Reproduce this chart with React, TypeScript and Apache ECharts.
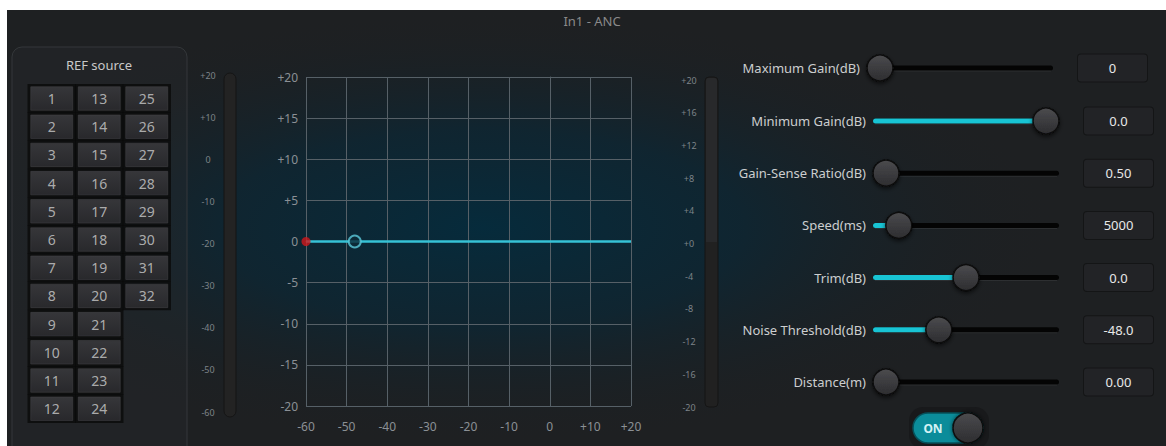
import React, { useEffect, useRef } from "react";
import * as echarts from "echarts";

// ---------- data ----------
const TITLE = "In1 - ANC";
const PANEL_TITLE = "REF source";

// main transfer curve
const CURVE_X = [-60, 20];
const CURVE_Y = [0, 0];
const REF_POINT = [-60, 0];
const THRESHOLD_POINT = [-48, 0];
const X_RANGE = [-60, 20];
const X_STEP = 10;
const Y_RANGE = [-20, 20];
const Y_STEP = 5;

// REF source buttons (one array per column)
const REF_COL_1 = [1, 2, 3, 4, 5, 6, 7, 8, 9, 10, 11, 12];
const REF_COL_2 = [13, 14, 15, 16, 17, 18, 19, 20, 21, 22, 23, 24];
const REF_COL_3 = [25, 26, 27, 28, 29, 30, 31, 32];
const REF_ROWS = 12;

// meters
const LEFT_METER_RANGE = [-60, 20];
const LEFT_METER_STEP = 10;
const RIGHT_METER_RANGE = [-20, 20];
const RIGHT_METER_STEP = 4;

// sliders
const SLIDER_LABELS = [
  "Maximum Gain(dB)",
  "Minimum Gain(dB)",
  "Gain-Sense Ratio(dB)",
  "Speed(ms)",
  "Trim(dB)",
  "Noise Threshold(dB)",
  "Distance(m)",
];
const SLIDER_VALUES = ["0", "0.0", "0.50", "5000", "0.0", "-48.0", "0.00"];
const SLIDER_POSITIONS = [0, 1, 0, 0.08, 0.5, 0.33, 0];
const TOGGLE_LABEL = "ON";

const FONT = "Noto Sans";

const signed = (v: number) => (v > 0 ? "+" + v : String(v));
const signedZero = (v: number) => (v > 0 ? "+" + v : v === 0 ? "+0" : String(v));

export default function App() {
  const ref = useRef<HTMLDivElement>(null);

  useEffect(() => {
    if (!ref.current) return;
    const chart = echarts.init(ref.current, undefined, { renderer: "svg" });

    const knobFill = new echarts.graphic.LinearGradient(0, 0, 0, 1, [
      { offset: 0, color: "#4b4b4e" },
      { offset: 1, color: "#2d2d30" },
    ]);
    const btnFill = new echarts.graphic.LinearGradient(0, 0, 0, 1, [
      { offset: 0, color: "#404044" },
      { offset: 1, color: "#2f2f33" },
    ]);

    const sliderRender = (params: any, api: any) => {
      const pos = api.value(0);
      const row = api.value(1);
      const p0 = api.coord([0, row]);
      const p1 = api.coord([1, row]);
      const pk = api.coord([pos, row]);
      const R = 13;
      const y = p0[1];
      const xs = p0[0] - R;
      const xe = p1[0] + R;
      const children: any[] = [
        { type: "rect", shape: { x: xs, y: y - 2.5, width: xe - xs, height: 5, r: 2.5 }, style: { fill: "#040404" } },
        { type: "rect", shape: { x: xs + 2, y: y + 2.5, width: xe - xs - 4, height: 1 }, style: { fill: "rgba(255,255,255,0.07)" } },
      ];
      if (pos > 0) {
        children.push({ type: "rect", shape: { x: xs, y: y - 2.5, width: pk[0] - xs, height: 5, r: 2.5 }, style: { fill: "#18c4d4" } });
      }
      children.push({
        type: "circle",
        shape: { cx: pk[0], cy: y, r: R },
        style: { fill: knobFill, stroke: "#0c0c0c", lineWidth: 1.5, shadowBlur: 4, shadowOffsetY: 2, shadowColor: "rgba(0,0,0,0.6)" },
      });
      return { type: "group", children };
    };

    const labelAxisCommon = {
      type: "category",
      inverse: true,
      axisLine: { show: false },
      axisTick: { show: false },
      splitLine: { show: false },
    };
    const valueBoxLabel = {
      color: "#e8e8e8",
      fontSize: 13,
      fontFamily: FONT,
      align: "center",
      margin: 72.5,
      width: 69,
      height: 27,
      lineHeight: 27,
      backgroundColor: "#222326",
      borderColor: "#141516",
      borderWidth: 1,
      borderRadius: 3,
    };
    const sliderLabel = { color: "#cccecf", fontSize: 13, fontFamily: FONT, margin: 20 };

    const refData: any[] = [];
    [REF_COL_1, REF_COL_2, REF_COL_3].forEach((col, ci) =>
      col.forEach((n, ri) => refData.push([ci, ri, n]))
    );

    const option: any = {
      animation: false,
      textStyle: { fontFamily: FONT },
      graphic: [
        { type: "rect", z: -10, shape: { x: 7, y: 10, width: 1159, height: 436 }, style: { fill: "#1e2022" } },
        {
          type: "rect",
          z: -9,
          shape: { x: 7, y: 10, width: 1159, height: 436 },
          style: {
            fill: new echarts.graphic.RadialGradient(0.41, 0.5, 0.5, [
              { offset: 0, color: "rgba(4,44,62,0.92)" },
              { offset: 0.45, color: "rgba(8,40,56,0.65)" },
              { offset: 0.8, color: "rgba(20,34,42,0.2)" },
              { offset: 1, color: "rgba(30,32,34,0)" },
            ]),
          },
        },
        { type: "rect", z: -8, shape: { x: 12, y: 47, width: 175, height: 420, r: 10 }, style: { fill: "rgba(40,42,45,0.35)", stroke: "#34373a", lineWidth: 1 } },
        { type: "text", z: 5, style: { x: 99, y: 65, text: PANEL_TITLE, fill: "#c8c8c8", fontSize: 13, fontFamily: FONT, align: "center", verticalAlign: "middle" } },
        { type: "text", z: 5, style: { x: 592, y: 21, text: TITLE, fill: "#8a8a8a", fontSize: 13, fontFamily: FONT, align: "center", verticalAlign: "middle" } },
        // meters
        { type: "rect", z: -5, shape: { x: 224, y: 73, width: 12, height: 344, r: 6 }, style: { fill: "#232323", stroke: "#151515", lineWidth: 1 } },
        { type: "rect", z: -5, shape: { x: 705, y: 77, width: 13, height: 330, r: 4 }, style: { fill: "#212121", stroke: "#151515", lineWidth: 1 } },
        { type: "rect", z: -4, shape: { x: 706, y: 78, width: 11, height: 164, r: [3, 3, 0, 0] }, style: { fill: "#28292b" } },
        // toggle
        { type: "rect", z: 0, shape: { x: 909, y: 407, width: 80, height: 42, r: 14 }, style: { fill: "#18191b" } },
        { type: "rect", z: 1, shape: { x: 913, y: 413, width: 70, height: 30, r: 15 }, style: { fill: "#0b8c9a", stroke: "#06505a", lineWidth: 1.5 } },
        { type: "circle", z: 2, shape: { cx: 968, cy: 428, r: 15 }, style: { fill: knobFill, stroke: "#0c0c0c", lineWidth: 1.5, shadowBlur: 4, shadowColor: "rgba(0,0,0,0.6)" } },
        { type: "text", z: 3, style: { x: 933, y: 428, text: TOGGLE_LABEL, fill: "#d4f2f5", fontSize: 12, fontWeight: "bold", fontFamily: FONT, align: "center", verticalAlign: "middle" } },
      ],
      grid: [
        { left: 306, top: 77, width: 325, height: 329, show: false }, // 0 main
        { left: 28, top: 84.4, width: 142.5, height: 338.4 }, // 1 ref buttons
        { left: 224, top: 75, width: 12, height: 337 }, // 2 left meter
        { left: 705, top: 80, width: 13, height: 327 }, // 3 right meter
        { left: 880, top: 41.9, width: 160, height: 52.2 }, // 4 slider row 1
        { left: 886, top: 94.9, width: 160, height: 313.2 }, // 5 slider rows 2-7
      ],
      xAxis: [
        {
          gridIndex: 0,
          type: "value",
          min: X_RANGE[0],
          max: X_RANGE[1],
          interval: X_STEP,
          axisLine: { show: true, lineStyle: { color: "#566067" } },
          axisTick: { show: false },
          splitLine: { show: true, lineStyle: { color: "#566067", width: 1 } },
          axisLabel: { color: "#8b9095", fontSize: 12, margin: 14, formatter: signed },
        },
        { gridIndex: 1, type: "category", data: [0, 1, 2], show: false },
        { gridIndex: 2, type: "category", data: [0], show: false },
        { gridIndex: 3, type: "category", data: [0], show: false },
        { gridIndex: 4, type: "value", min: 0, max: 1, show: false },
        { gridIndex: 5, type: "value", min: 0, max: 1, show: false },
      ],
      yAxis: [
        {
          gridIndex: 0,
          type: "value",
          min: Y_RANGE[0],
          max: Y_RANGE[1],
          interval: Y_STEP,
          axisLine: { show: true, lineStyle: { color: "#566067" } },
          axisTick: { show: false },
          splitLine: { show: true, lineStyle: { color: "#566067", width: 1 } },
          axisLabel: { color: "#8b9095", fontSize: 12, margin: 8, formatter: signed },
        },
        { gridIndex: 1, type: "category", inverse: true, data: Array.from({ length: REF_ROWS }, (_, i) => i), show: false },
        {
          gridIndex: 2,
          type: "value",
          min: LEFT_METER_RANGE[0],
          max: LEFT_METER_RANGE[1],
          interval: LEFT_METER_STEP,
          axisLine: { show: false },
          axisTick: { show: false },
          splitLine: { show: false },
          axisLabel: { color: "#7d8388", fontSize: 9, margin: 16, align: "center", formatter: signed },
        },
        {
          gridIndex: 3,
          type: "value",
          min: RIGHT_METER_RANGE[0],
          max: RIGHT_METER_RANGE[1],
          interval: RIGHT_METER_STEP,
          axisLine: { show: false },
          axisTick: { show: false },
          splitLine: { show: false },
          axisLabel: { color: "#7d8388", fontSize: 9, margin: 16, align: "center", formatter: signedZero },
        },
        { ...labelAxisCommon, gridIndex: 4, position: "left", data: SLIDER_LABELS.slice(0, 1), axisLabel: sliderLabel },
        { ...labelAxisCommon, gridIndex: 4, position: "right", data: SLIDER_VALUES.slice(0, 1), axisLabel: valueBoxLabel },
        { ...labelAxisCommon, gridIndex: 5, position: "left", data: SLIDER_LABELS.slice(1), axisLabel: sliderLabel },
        { ...labelAxisCommon, gridIndex: 5, position: "right", data: SLIDER_VALUES.slice(1), axisLabel: valueBoxLabel },
      ],
      series: [
        {
          type: "line",
          xAxisIndex: 0,
          yAxisIndex: 0,
          data: CURVE_X.map((x, i) => [x, CURVE_Y[i]]),
          symbol: "none",
          lineStyle: { color: "#36c2d6", width: 2.5 },
          z: 3,
        },
        {
          type: "scatter",
          xAxisIndex: 0,
          yAxisIndex: 0,
          data: [REF_POINT],
          symbolSize: 9,
          itemStyle: { color: "#d0181c" },
          clip: false,
          z: 4,
        },
        {
          type: "scatter",
          xAxisIndex: 0,
          yAxisIndex: 0,
          data: [THRESHOLD_POINT],
          symbolSize: 12,
          itemStyle: { color: "#0d2a38", borderColor: "#5ccbdc", borderWidth: 2 },
          z: 4,
        },
        {
          type: "scatter",
          xAxisIndex: 1,
          yAxisIndex: 1,
          data: refData,
          symbol: "rect",
          symbolSize: [48.5, 28.8],
          itemStyle: { color: "#0a0a0a" },
          silent: true,
          z: 1,
        },
        {
          type: "scatter",
          xAxisIndex: 1,
          yAxisIndex: 1,
          data: refData,
          symbol: "rect",
          symbolSize: [42, 23.5],
          itemStyle: { color: btnFill, borderColor: "#46464a", borderWidth: 0.6 },
          label: { show: true, position: "inside", formatter: (p: any) => String(p.value[2]), color: "#cdcdcd", fontSize: 14, fontFamily: FONT },
          z: 2,
        },
        {
          type: "custom",
          xAxisIndex: 4,
          yAxisIndex: 4,
          renderItem: sliderRender,
          encode: { x: 0, y: 1 },
          data: [[SLIDER_POSITIONS[0], 0]],
          z: 3,
        },
        {
          type: "custom",
          xAxisIndex: 5,
          yAxisIndex: 6,
          renderItem: sliderRender,
          encode: { x: 0, y: 1 },
          data: SLIDER_POSITIONS.slice(1).map((p, i) => [p, i]),
          z: 3,
        },
      ],
    };

    chart.setOption(option);
    return () => chart.dispose();
  }, []);

  return (
    <div
      ref={ref}
      style={{ position: "absolute", left: 0, top: 0, width: 1166, height: 446 }}
    />
  );
}
